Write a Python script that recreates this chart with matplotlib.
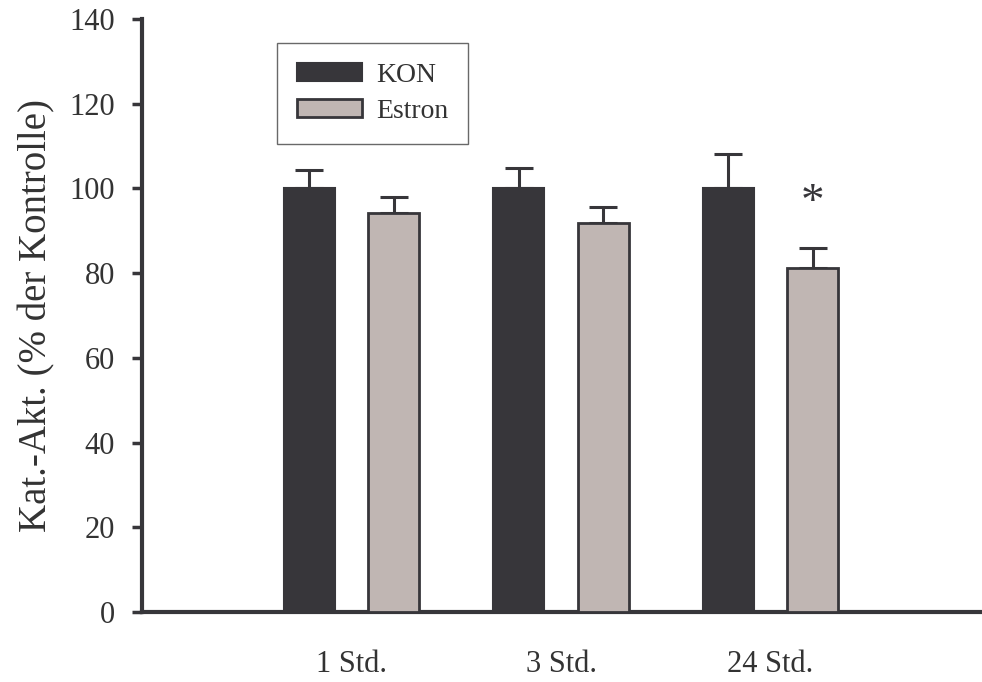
import matplotlib
matplotlib.use("Agg")
import matplotlib.pyplot as plt
import numpy as np

# Katalase-Aktivitaet relativ zur Kontrolle
zeitpunkte = ["1 Std.", "3 Std.", "24 Std."]
kon_mittel = [100.0, 100.0, 100.0]
kon_fehler = [4.3, 4.8, 8.2]
estron_mittel = [94.2, 91.8, 81.2]
estron_fehler = [3.9, 3.9, 4.8]
signifikant = [False, False, True]

plt.rcParams["font.family"] = ["Liberation Serif", "DejaVu Serif"]

dunkel = "#37363a"
hell = "#c0b6b3"
text_farbe = "#333333"

fig = plt.figure(figsize=(9.82, 6.82), dpi=100)
ax = fig.add_axes([0.1446, 0.1026, 0.8534, 0.8695])

x = np.arange(1, len(zeitpunkte) + 1)
breite = 0.242
versatz = 0.202

ax.bar(x - versatz, kon_mittel, breite, color=dunkel, edgecolor=dunkel,
       linewidth=1.5, label="KON", zorder=3)
ax.bar(x + versatz, estron_mittel, breite, color=hell, edgecolor=dunkel,
       linewidth=2, label="Estron", zorder=3)

# nur obere Fehlerbalken
ax.errorbar(x - versatz, kon_mittel, yerr=[np.zeros(3), kon_fehler], fmt="none",
            ecolor=dunkel, elinewidth=2.2, capsize=10, capthick=2.2, zorder=2)
ax.errorbar(x + versatz, estron_mittel, yerr=[np.zeros(3), estron_fehler], fmt="none",
            ecolor=dunkel, elinewidth=2.2, capsize=10, capthick=2.2, zorder=2)

for xi, m, e, s in zip(x, estron_mittel, estron_fehler, signifikant):
    if s:
        ax.text(xi + versatz, m + e + 10.5, "*", ha="center", va="center",
                fontsize=34, color=dunkel)

ax.set_xlim(0, 4)
ax.set_ylim(0, 140)
ax.set_yticks(np.arange(0, 141, 20))
ax.set_xticks(x)
ax.set_xticklabels(zeitpunkte)
ax.tick_params(axis="x", length=0, pad=27, labelsize=22, labelcolor=text_farbe)
ax.tick_params(axis="y", length=7, width=2.5, direction="out", labelsize=22,
               color=dunkel, labelcolor=text_farbe, pad=12.5)
ax.set_ylabel("Kat.-Akt. (% der Kontrolle)", fontsize=28, labelpad=10,
              color=text_farbe)

for side in ["top", "right"]:
    ax.spines[side].set_visible(False)
for side in ["left", "bottom"]:
    ax.spines[side].set_linewidth(3)
    ax.spines[side].set_color(dunkel)

leg = ax.legend(loc="upper left", bbox_to_anchor=(0.161, 0.9595), fontsize=20,
                frameon=True, fancybox=False, edgecolor="#444444",
                handlelength=2.35, handleheight=0.62, borderpad=0.72,
                labelspacing=0.4, handletextpad=0.5, borderaxespad=0)
leg.get_frame().set_linewidth(1)
for t in leg.get_texts():
    t.set_color(text_farbe)

fig.savefig("out.png", dpi=100)
